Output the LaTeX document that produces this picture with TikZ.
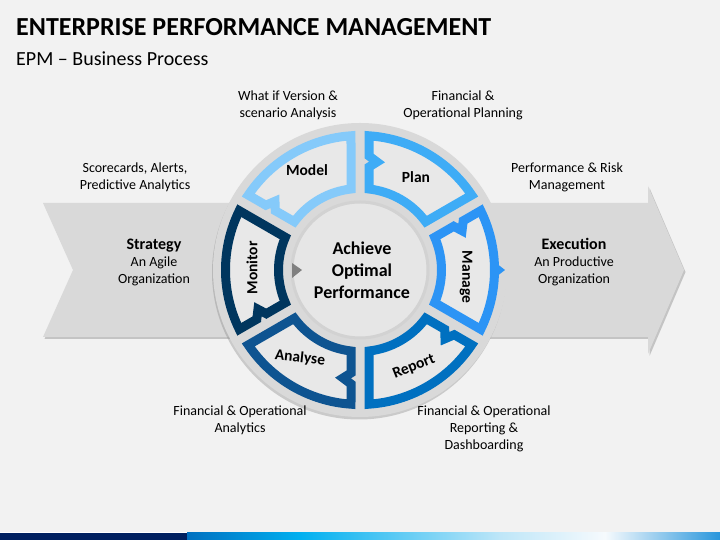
\documentclass[tikz,border=0pt]{standalone}
\usepackage{fontspec}
\setmainfont{Carlito}
\usetikzlibrary{shadows}
\definecolor{bg}{HTML}{F2F2F2}
\definecolor{bandgray}{HTML}{D9D9D9}
\definecolor{ringgray}{HTML}{D9D9D9}
\definecolor{segfill}{HTML}{E8E8E8}
\definecolor{diskfill}{HTML}{E6E6E6}
\definecolor{diskring}{HTML}{D2D2D2}
\definecolor{cModel}{RGB}{133,202,250}
\definecolor{cPlan}{RGB}{62,172,246}
\definecolor{cManage}{RGB}{44,148,245}
\definecolor{cReport}{RGB}{0,112,192}
\definecolor{cAnalyse}{RGB}{14,84,145}
\definecolor{cMonitor}{RGB}{0,54,94}
\definecolor{navy}{HTML}{002060}
\definecolor{tri}{RGB}{128,128,128}
\definecolor{barA}{RGB}{0,112,192}
\definecolor{barB}{RGB}{0,176,240}
\definecolor{barC}{RGB}{190,230,248}
\definecolor{barD}{RGB}{246,250,253}
\definecolor{barE}{RGB}{40,150,220}
% segment: #1 start angle (straight end), #2 end angle (notched end), #3 colour
\newcommand\epmseg[3]{%
  \draw[segstyle, draw=#3]
    ({#1+3.84}:134.5) arc[start angle={#1+3.84}, end angle={#2-3.84}, radius=134.5pt]
    -- ({#2-atan(9/114)}:{sqrt(114*114+81)})
    -- ({#2-atan(17/108)}:{sqrt(108*108+289)})
    -- ({#2-atan(9/103)}:{sqrt(103*103+81)})
    -- ({#2-6.34}:81.5) arc[start angle={#2-6.34}, end angle={#1+6.34}, radius=81.5pt]
    -- cycle;}
\tikzset{
  segstyle/.style={line width=9pt, fill=segfill, line join=miter},
  toplabel/.style={font=\fontsize{14}{17}\selectfont, align=center, text=black},
  seglabel/.style={font=\fontsize{15.5}{18}\selectfont\bfseries, text=black},
  sidelabel/.style={font=\fontsize{14}{17}\selectfont, align=center, text=black},
}
\begin{document}
\begin{tikzpicture}[x=1pt,y=1pt]
\useasboundingbox (0,0) rectangle (720,540);
\fill[bg] (0,0) rectangle (720,540);

% big arrow band
\path[fill=bandgray, drop shadow={shadow xshift=1.5pt, shadow yshift=-2pt, opacity=.4}]
  (43,337) -- (648,337) -- (648,354) -- (684,270) -- (648,186) -- (648,203)
  -- (43,203) -- (73,270) -- cycle;

% circle
\begin{scope}[shift={(360,270)}]
  \path[fill=ringgray, drop shadow={shadow xshift=-1pt, shadow yshift=-2.5pt, opacity=.35}]
    (0,0) circle[radius=147pt];
  \draw[fill=diskfill, draw=diskring, line width=3pt] (0,0) circle[radius=68pt];
  \epmseg{30}{90}{cPlan}
  \epmseg{90}{150}{cModel}
  \epmseg{150}{210}{cMonitor}
  \epmseg{210}{270}{cAnalyse}
  \epmseg{270}{330}{cReport}
  \epmseg{-30}{30}{cManage}
\end{scope}
\fill[cManage] (496,277) -- (505,270) -- (496,263) -- cycle;
\fill[tri] (292,277) -- (302,270) -- (292,262) -- cycle;

% titles
\node[anchor=base west, inner sep=0pt, font=\fontsize{26}{30}\selectfont\bfseries] (title) at (16,504) {ENTERPRISE PERFORMANCE MANAGEMENT};
\node[anchor=base west, inner sep=0pt, font=\fontsize{20}{24}\selectfont] (subtitle) at (16,474) {EPM – Business Process};

% outer labels
\node[toplabel] (lmodel) at (288,435) {What if Version \&\\scenario Analysis};
\node[toplabel] (lplan) at (463,435) {Financial \&\\Operational Planning};
\node[toplabel] (lmonitor) at (135,362.5) {Scorecards, Alerts,\\Predictive Analytics};
\node[toplabel] (lmanage) at (567,362.5) {Performance \& Risk\\Management};
\node[toplabel] (lanalyse) at (240,119.5) {Financial \& Operational\\Analytics};
\node[toplabel] (lreport) at (484,111) {Financial \& Operational\\Reporting \&\\Dashboarding};

% side labels
\node[sidelabel] (strategy) at (154,278) {{\fontsize{16}{17}\selectfont\bfseries Strategy}\\An Agile\\Organization};
\node[sidelabel] (execution) at (574,278) {{\fontsize{16}{17}\selectfont\bfseries Execution}\\An Productive\\Organization};

% segment labels
\node[seglabel] (model) at (307,370) {Model};
\node[seglabel] (plan) at (416,363) {Plan};
\node[seglabel, rotate=-90] (manage) at (466,263) {Manage};
\node[seglabel, rotate=22, inner sep=1pt] (report) at (414,173) {Report};
\node[seglabel, rotate=-6] (analyse) at (300,182) {Analyse};
\node[seglabel, rotate=90] (monitor) at (252,272) {Monitor};

% centre
\node[align=center, font=\fontsize{18}{22}\selectfont\bfseries] (centre) at (362,270) {Achieve\\Optimal\\Performance};

% bottom bar
\fill[white] (0,7) rectangle (720,8.2);
\fill[navy] (0,0) rectangle (187.5,7);
\shade[left color=barA, right color=barB] (187,0) rectangle (300.5,7);
\shade[left color=barB, right color=barC] (300,0) rectangle (500.5,7);
\shade[left color=barC, right color=barD] (500,0) rectangle (605.5,7);
\shade[left color=barD, right color=barE] (605,0) rectangle (720,7);
\end{tikzpicture}
\end{document}
